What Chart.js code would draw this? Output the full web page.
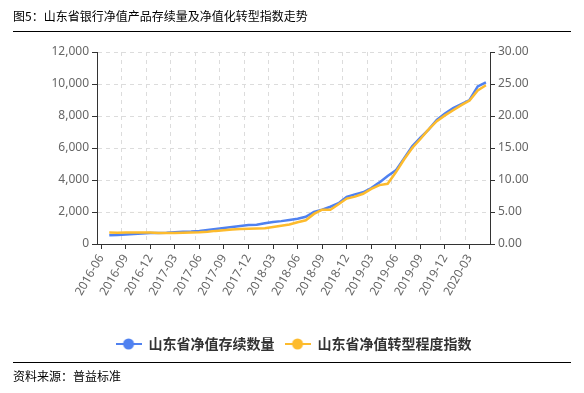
<!DOCTYPE html>
<html>
<head>
<meta charset="utf-8">
<script src="https://cdn.jsdelivr.net/npm/chart.js@4.4.1/dist/chart.umd.min.js"></script>
<style>
html, body { margin: 0; padding: 0; background: #fff; }
#wrap { position: relative; width: 584px; height: 393px; overflow: hidden; font-family: "Noto Sans CJK SC", "Noto Sans", sans-serif; }
#chart { position: absolute; left: 0; top: 0; }
#title { position: absolute; left: 13px; top: 7px; font-size: 12px; line-height: 18px; color: #000; white-space: nowrap; }
.rule { position: absolute; left: 13px; width: 558px; height: 0; border-top: 1.5px solid #000; }
#src { position: absolute; left: 13px; top: 367px; font-size: 12px; line-height: 18px; color: #000; white-space: nowrap; }
</style>
</head>
<body>
<div id="wrap">
  <canvas id="chart" width="584" height="393"></canvas>
  <div id="title">图5：山东省银行净值产品存续量及净值化转型指数走势</div>
  <div class="rule" style="top:31px"></div>
  <div class="rule" style="top:362px"></div>
  <div id="src">资料来源：普益标准</div>
</div>
<script>
// ---- data ----
const months = [
  '2016-06','2016-07','2016-08','2016-09','2016-10','2016-11','2016-12',
  '2017-01','2017-02','2017-03','2017-04','2017-05','2017-06','2017-07','2017-08','2017-09','2017-10','2017-11','2017-12',
  '2018-01','2018-02','2018-03','2018-04','2018-05','2018-06','2018-07','2018-08','2018-09','2018-10','2018-11','2018-12',
  '2019-01','2019-02','2019-03','2019-04','2019-05','2019-06','2019-07','2019-08','2019-09','2019-10','2019-11','2019-12',
  '2020-01','2020-02','2020-03','2020-04','2020-05'
];
const productCount = [
  null, 540, 560, 600, 620, 650, 680,
  690, 700, 740, 760, 780, 820, 880, 940, 1000, 1060, 1120, 1180,
  1200, 1300, 1380, 1430, 1500, 1580, 1700, 2000, 2150, 2330, 2550, 2950,
  3100, 3230, 3500, 3850, 4250, 4600, 5350, 6100, 6650, 7150, 7750, 8150,
  8500, 8750, 9000, 9850, 10100
];
const transformIndex = [
  null, 1.78, 1.75, 1.78, 1.80, 1.80, 1.78,
  1.72, 1.70, 1.72, 1.75, 1.78, 1.82, 1.92, 2.05, 2.15, 2.25, 2.35, 2.40,
  2.42, 2.45, 2.65, 2.85, 3.05, 3.40, 3.70, 4.70, 5.35, 5.35, 6.20, 7.10,
  7.40, 7.85, 8.60, 9.20, 9.40, 11.20, 13.20, 15.00, 16.40, 17.90, 19.20, 20.10,
  20.90, 21.70, 22.40, 24.00, 24.80
];
const seriesNames = ['山东省净值存续数量', '山东省净值转型程度指数'];
const seriesColors = ['#4F81F0', '#FDBB2D'];

// ---- legend markers (line + circle) ----
function makeMarker(color) {
  const c = document.createElement('canvas');
  c.width = 26; c.height = 12;
  const g = c.getContext('2d');
  g.strokeStyle = color; g.lineWidth = 2;
  g.beginPath(); g.moveTo(0, 6); g.lineTo(26, 6); g.stroke();
  g.fillStyle = color;
  g.beginPath(); g.arc(13, 6, 5.5, 0, Math.PI * 2); g.fill();
  return c;
}
const markers = seriesColors.map(makeMarker);

const tickFont = { family: '"Noto Sans", "DejaVu Sans", sans-serif', size: 12 };
const gridColor = '#dcdcdc';
const axisColor = '#333';

new Chart(document.getElementById('chart'), {
  type: 'line',
  data: {
    labels: months,
    datasets: [
      { label: seriesNames[0], data: productCount, yAxisID: 'y', xAxisID: 'x',
        borderColor: seriesColors[0], backgroundColor: seriesColors[0],
        borderWidth: 2.5, pointRadius: 0, pointHoverRadius: 0, tension: 0, order: 1 },
      { label: seriesNames[1], data: transformIndex, yAxisID: 'y1', xAxisID: 'x',
        borderColor: seriesColors[1], backgroundColor: seriesColors[1],
        borderWidth: 2.5, pointRadius: 0, pointHoverRadius: 0, tension: 0, order: 0 }
    ]
  },
  options: {
    responsive: false,
    animation: false,
    devicePixelRatio: 1,
    layout: { padding: { left: 47, right: 44, top: 52, bottom: 32 } },
    plugins: {
      tooltip: { enabled: false },
      legend: {
        position: 'bottom',
        labels: {
          usePointStyle: true,
          pointStyleWidth: 26,
          padding: 10,
          color: '#333',
          font: { family: '"Noto Sans CJK SC", sans-serif', size: 14, weight: 'bold' },
          sort: (a, b) => a.datasetIndex - b.datasetIndex,
          generateLabels(chart) {
            const items = Chart.defaults.plugins.legend.labels.generateLabels(chart);
            items.forEach(it => { it.pointStyle = markers[it.datasetIndex]; it.lineWidth = 0; });
            return items;
          }
        }
      }
    },
    scales: {
      x: {
        type: 'category',
        position: 'bottom',
        offset: true,
        grid: {
          display: true, offset: false, drawOnChartArea: false, drawTicks: true,
          tickLength: 5, tickWidth: 1,
          tickColor: ctx => (ctx.index % 3 === 0 ? axisColor : 'rgba(0,0,0,0)')
        },
        border: { display: true, color: axisColor, width: 1 },
        ticks: {
          autoSkip: false, minRotation: 60, maxRotation: 60, padding: 3,
          color: '#666', font: tickFont,
          callback: function (value, index) { return index % 3 === 0 ? this.getLabelForValue(value) : ''; }
        },
        afterFit: s => { s.height = 83; }
      },
      xg: {
        type: 'category',
        position: 'bottom',
        offset: true,
        grid: {
          display: true, offset: true, drawOnChartArea: true, drawTicks: false, lineWidth: 1,
          color: ctx => (ctx.index % 3 === 0 && ctx.index > 0 && ctx.index < months.length ? gridColor : 'rgba(0,0,0,0)')
        },
        border: { display: false, dash: [4, 4] },
        ticks: { display: false },
        afterFit: s => { s.height = 0; }
      },
      y: {
        type: 'linear',
        position: 'left',
        min: 0, max: 12000,
        grid: { color: gridColor, drawTicks: true, tickLength: 5, tickColor: axisColor },
        border: { display: true, color: axisColor, width: 1, dash: [4, 4] },
        ticks: { stepSize: 2000, padding: 3, color: '#666', font: tickFont,
          callback: v => v.toLocaleString('en-US') },
        afterFit: s => { s.width = 50; }
      },
      y1: {
        type: 'linear',
        position: 'right',
        min: 0, max: 30,
        grid: { drawOnChartArea: false, drawTicks: true, tickLength: 5, tickColor: axisColor },
        border: { display: true, color: axisColor, width: 1 },
        ticks: { stepSize: 5, padding: 3, color: '#666', font: tickFont,
          callback: v => Number(v).toFixed(2) },
        afterFit: s => { s.width = 50; }
      }
    }
  }
});
</script>
</body>
</html>
